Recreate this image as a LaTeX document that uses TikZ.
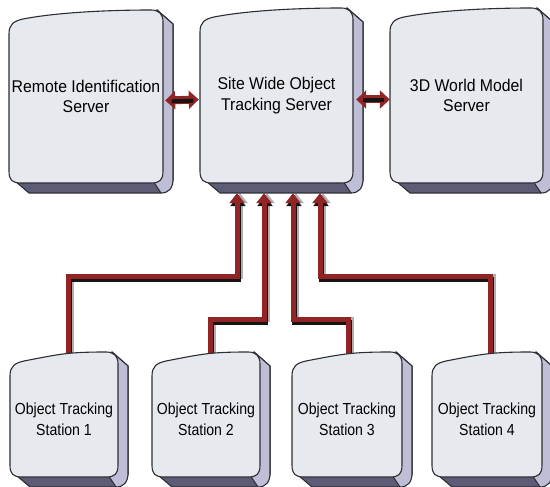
\documentclass[tikz,border=0pt]{standalone}
\usepackage{fontspec}
\setmainfont{Liberation Sans}
\newfontfamily\topfont[FakeStretch=0.93]{Liberation Sans}
\newfontfamily\stfont[FakeStretch=0.88]{Liberation Sans}
\usetikzlibrary{arrows.meta,calc}
\pgfdeclarelayer{bg}
\pgfsetlayers{bg,main}
\definecolor{facecol}{RGB}{230,233,238}
\definecolor{edgecol}{RGB}{45,45,52}
\definecolor{slabdark}{RGB}{92,92,118}
\definecolor{slablight}{RGB}{190,190,214}
\definecolor{linkred}{RGB}{145,36,36}
\definecolor{shadowcol}{RGB}{25,20,20}
\definecolor{shadowlight}{RGB}{175,175,180}
\tikzset{
  capnode/.style={draw=none, inner sep=0pt, align=center},
  toptext/.style={font={\topfont\fontsize{17}{20.5}\selectfont}},
  sttext/.style={font={\stfont\fontsize{16}{21}\selectfont}, yshift=-5pt},
  edgeline/.style={draw=edgecol, line width=1.1pt, line join=round},
  link/.style={draw=linkred, line width=5pt, -{Triangle[width=15pt,length=10pt]}},
  linkshadowr/.style={draw=shadowlight, line width=5pt, -{Triangle[width=15pt,length=10pt]},
     transform canvas={shift={(3pt,0pt)}}},
  linkshadowd/.style={draw=shadowcol, line width=5pt, -{Triangle[width=15pt,length=10pt]},
     transform canvas={shift={(1pt,-3pt)}}},
  dlink/.style={draw=linkred, line width=8pt, {Triangle[width=18pt,length=10pt]}-{Triangle[width=18pt,length=10pt]}},
  dlinkshadow/.style={draw=shadowcol, line width=4pt, shorten <=6pt, shorten >=6pt,
     transform canvas={shift={(0.5pt,-1pt)}}},
}
% #1 name, #2 x1, #3 y1, #4 x2, #5 y2, #6 text style, #7 text
\newcommand{\keycap}[7]{%
  \filldraw[fill=slabdark, edgeline]
    (#2+6,#5-2) -- (#2+20,#5+10) -- (#4-2,#5+10) -- (#4+10,#5-2) -- (#4+10,#3+14) -- (#4-6,#3) -- cycle;
  \filldraw[fill=slablight, edgeline]
    (#4-6,#3) -- (#4+10,#3+14) -- (#4+10,#5-4)
    .. controls (#4+10,#5+5) and (#4+6,#5+10) .. (#4-2,#5+10) -- (#4-10,#5-2) -- cycle;
  \filldraw[fill=facecol, edgeline]
    (#2,#3+24) .. controls (#2,#3+14) and (#2+5,#3+11) .. (#2+14,#3+9)
    .. controls (#2+50,#3+2) and (#4-50,#3) .. (#4-12,#3)
    .. controls (#4-4,#3) and (#4,#3+4) .. (#4,#3+12)
    -- (#4,#5-12) .. controls (#4,#5-3) and (#4-3,#5) .. (#4-12,#5)
    -- (#2+12,#5) .. controls (#2+3,#5) and (#2,#5-3) .. (#2,#5-12) -- cycle;
  \node[capnode, #6, minimum width={(#4-#2)*1pt}, minimum height={(#5-#3)*1pt}]
    (#1) at ({(#2+#4)/2},{(#3+#5)/2}) {#7};
}
\begin{document}
\begin{tikzpicture}[x=1pt,y=-1pt]
\useasboundingbox (0,0) rectangle (550,487);

\keycap{rem}{9}{10}{163}{183}{toptext}{Remote Identification\\Server}
\keycap{srv}{200}{8}{353}{183}{toptext}{Site Wide Object\\Tracking Server}
\keycap{wm}{390}{8}{543}{183}{toptext}{3D World Model\\Server}

\keycap{st1}{10}{352}{118}{477}{sttext}{Object Tracking\\Station 1}
\keycap{st2}{152}{352}{260}{477}{sttext}{Object Tracking\\Station 2}
\keycap{st3}{292}{352}{402}{477}{sttext}{Object Tracking\\Station 3}
\keycap{st4}{432}{352}{542}{477}{sttext}{Object Tracking\\Station 4}

\coordinate (t1) at ($(srv.south)+(-39.5,10)$);
\coordinate (t2) at ($(srv.south)+(-12.5,10)$);
\coordinate (t3) at ($(srv.south)+(16.5,10)$);
\coordinate (t4) at ($(srv.south)+(43.5,10)$);

\begin{pgfonlayer}{bg}
  \fill[white] (0,0) rectangle (550,487);
  \foreach \s/\t/\h/\dx in {st1/t1/80/4, st2/t2/37/4, st3/t3/37/1, st4/t4/80/3}{
    \draw[linkshadowr] ($(\s.north)+(\dx,-1)$) -- ++(0,-\h+1) -| (\t);
  }
  \foreach \s/\t/\h/\dx in {st1/t1/80/4, st2/t2/37/4, st3/t3/37/1, st4/t4/80/3}{
    \draw[linkshadowd] ($(\s.north)+(\dx,-1)$) -- ++(0,-\h+1) -| (\t);
  }
  \foreach \s/\t/\h/\dx in {st1/t1/80/4, st2/t2/37/4, st3/t3/37/1, st4/t4/80/3}{
    \draw[link] ($(\s.north)+(\dx,-1)$) -- ++(0,-\h+1) -| (\t);
  }
\end{pgfonlayer}

\draw[dlink] ($(rem.east)+(2,4)$) -- ($(srv.west)+(-1,4)$);
\draw[dlinkshadow] ($(rem.east)+(2,4)$) -- ($(srv.west)+(-1,4)$);
\draw[dlink] ($(srv.east)+(3,4)$) -- ($(wm.west)+(0,4)$);
\draw[dlinkshadow] ($(srv.east)+(3,4)$) -- ($(wm.west)+(0,4)$);
\end{tikzpicture}
\end{document}
